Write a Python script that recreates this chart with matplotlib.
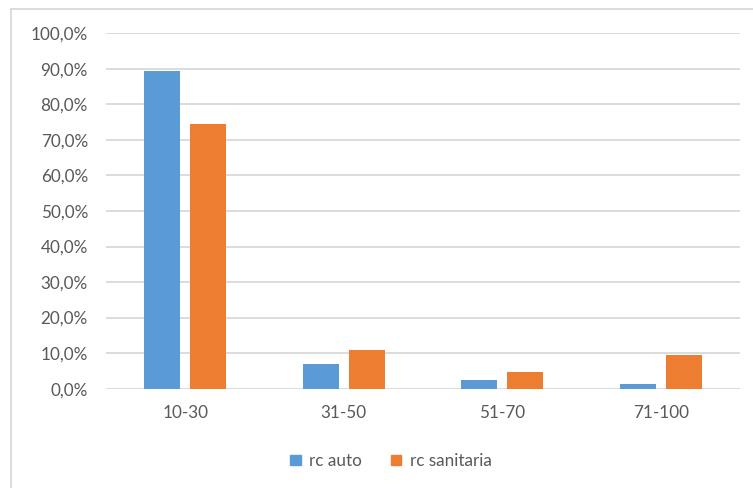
import matplotlib.pyplot as plt
import numpy as np
from matplotlib.lines import Line2D
from matplotlib.patches import Patch
from matplotlib.ticker import FuncFormatter

# --- dati ---
categorie = ["10-30", "31-50", "51-70", "71-100"]
rc_auto = [0.894, 0.070, 0.024, 0.012]
rc_sanitaria = [0.745, 0.109, 0.046, 0.095]

blu = "#5B9BD5"
arancio = "#ED7D31"
testo = "#595959"
griglia = "#D9D9D9"

plt.rcParams["font.family"] = ["Lato", "DejaVu Sans"]
fs = 12.3

fig = plt.figure(figsize=(7.53, 4.88), dpi=100)
W, H = 753, 488
ax = fig.add_axes([106 / W, (H - 388.7) / H, 634 / W, 355.4 / H])

x = np.arange(len(categorie))
larg = 0.227
ax.bar(x - 0.145, rc_auto, width=larg, color=blu, zorder=3)
ax.bar(x + 0.145, rc_sanitaria, width=larg, color=arancio, zorder=3)

ax.set_xlim(-0.5, len(categorie) - 0.5)
ax.set_ylim(0, 1.0)
ax.set_yticks(np.arange(0, 1.01, 0.1))
ax.yaxis.set_major_formatter(FuncFormatter(lambda v, p: f"{v*100:.1f}%".replace(".", ",")))
ax.set_xticks(x)
ax.set_xticklabels(categorie)

ax.grid(axis="y", color=griglia, linewidth=1.3, zorder=0)
for s in ax.spines.values():
    s.set_visible(False)
ax.tick_params(axis="both", length=0, labelsize=fs, colors=testo)
ax.tick_params(axis="y", pad=13)
ax.tick_params(axis="x", pad=12)

# bordo del grafico (sinistra e sopra)
fig.add_artist(Line2D([10.5 / W, 10.5 / W], [0, 1 - 8.5 / H], color=griglia, linewidth=1.3))
fig.add_artist(Line2D([10.5 / W, 1], [1 - 8.5 / H, 1 - 8.5 / H], color=griglia, linewidth=1.3))

handles = [Patch(color=blu, label="rc auto"), Patch(color=arancio, label="rc sanitaria")]
fig.legend(handles=handles, loc="center", bbox_to_anchor=(391 / W, 1 - 461 / H),
           ncol=2, frameon=False, fontsize=fs, labelcolor=testo,
           handlelength=0.6, handleheight=0.6, handletextpad=0.5, columnspacing=1.7)

fig.savefig("out.png", dpi=100)
